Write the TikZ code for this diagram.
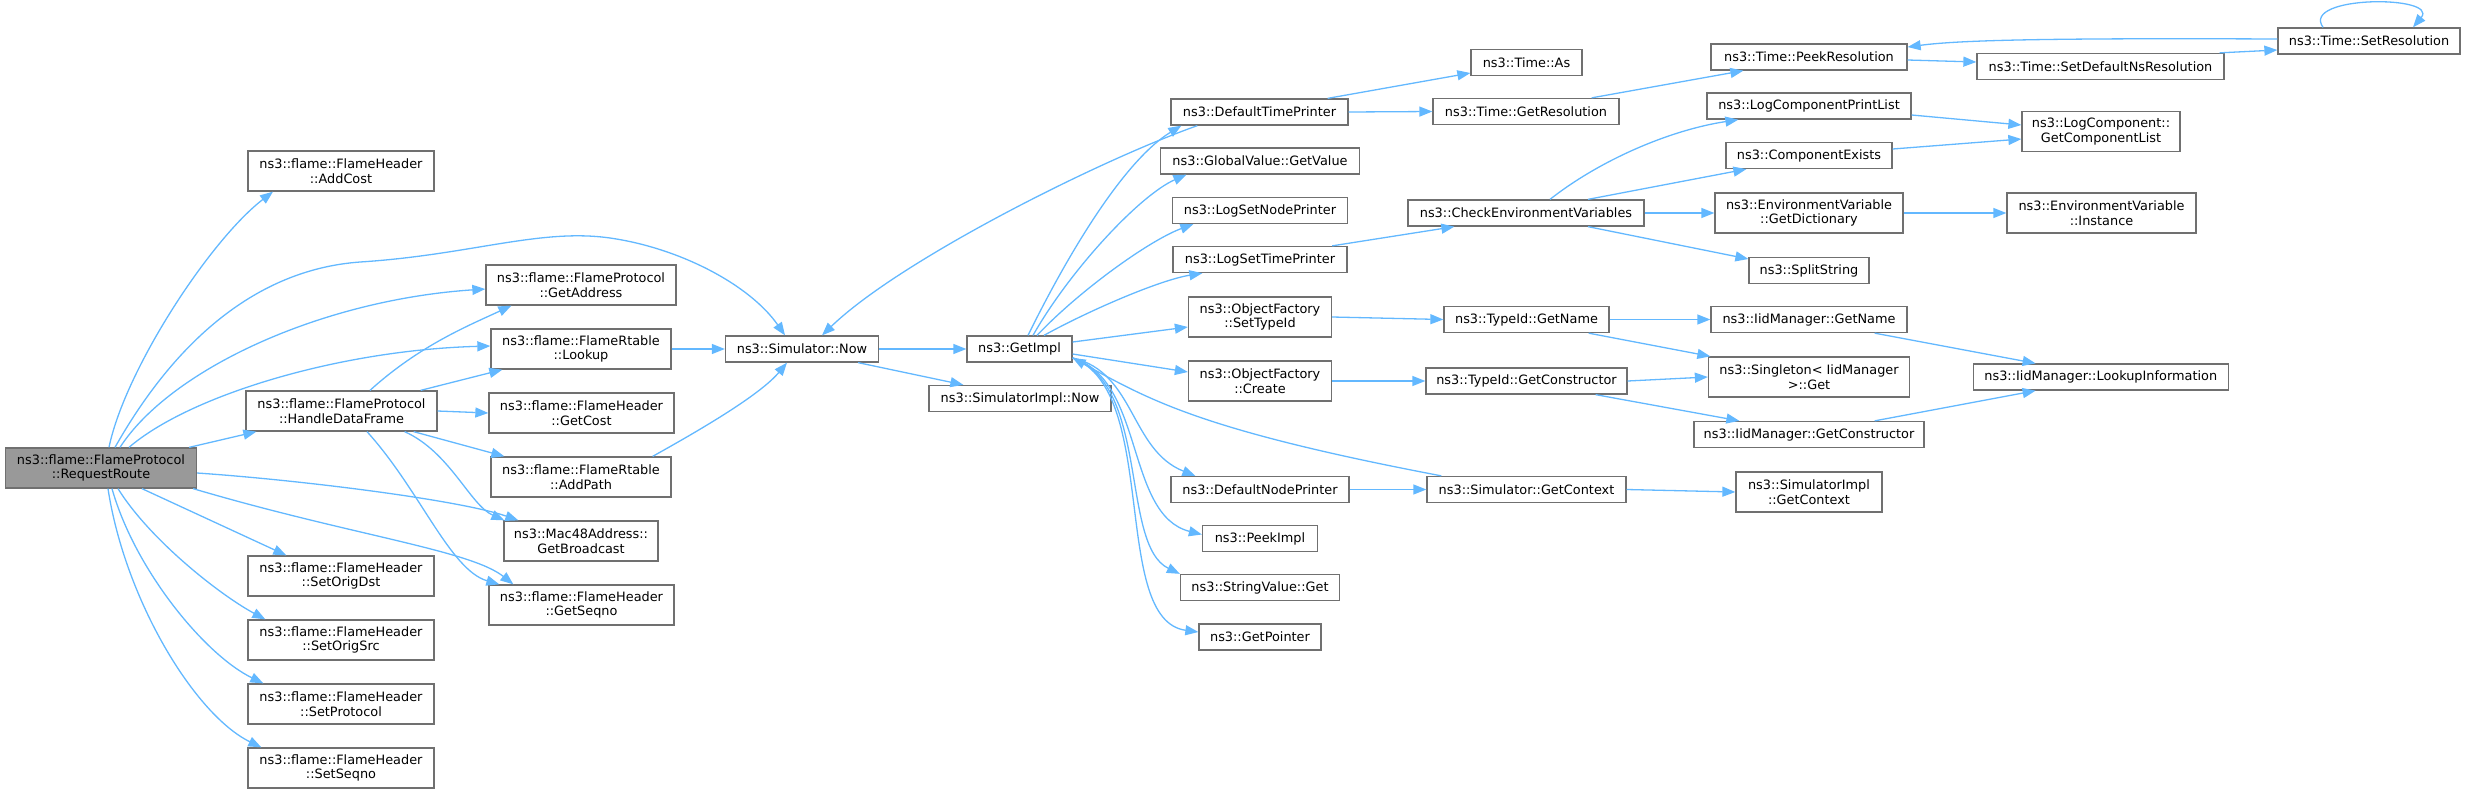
\documentclass[tikz,border=0pt]{standalone}
\usepackage{fontspec}
\setmainfont{DejaVu Sans}
\usetikzlibrary{arrows.meta}
\definecolor{edgec}{HTML}{63B8FF}
\definecolor{bordc}{HTML}{707070}
\definecolor{rootc}{HTML}{999999}
\tikzset{
 box/.style={draw=bordc, line width=1.3pt, fill=white, inner sep=0pt, align=center,
   font=\fontsize{12.87}{14.5}\selectfont, text=black},
 rootbox/.style={box, fill=rootc},
 edge/.style={draw=edgec, line width=1.3pt, -{Triangle[length=13pt,width=10pt]}},
}
\begin{document}
\begin{tikzpicture}[x=1pt,y=-1pt]
\useasboundingbox (0,0) rectangle (2467,793);
% column 1
\node[rootbox, minimum width=191pt, minimum height=40pt] (rr) at (101,468) {ns3::flame::FlameProtocol\\::RequestRoute};
% column 2
\node[box, minimum width=186pt, minimum height=40pt] (addcost) at (341,171) {ns3::flame::FlameHeader\\::AddCost};
\node[box, minimum width=191pt, minimum height=40pt] (hdf) at (341.5,411) {ns3::flame::FlameProtocol\\::HandleDataFrame};
\node[box, minimum width=186pt, minimum height=40pt] (setorigdst) at (341,576) {ns3::flame::FlameHeader\\::SetOrigDst};
\node[box, minimum width=186pt, minimum height=40pt] (setorigsrc) at (341,640) {ns3::flame::FlameHeader\\::SetOrigSrc};
\node[box, minimum width=186pt, minimum height=40pt] (setprotocol) at (341,704) {ns3::flame::FlameHeader\\::SetProtocol};
\node[box, minimum width=186pt, minimum height=40pt] (setseqno) at (341,768) {ns3::flame::FlameHeader\\::SetSeqno};
% column 3
\node[box, minimum width=190pt, minimum height=40pt] (getaddr) at (581,285) {ns3::flame::FlameProtocol\\::GetAddress};
\node[box, minimum width=180pt, minimum height=40pt] (lookup) at (581,349) {ns3::flame::FlameRtable\\::Lookup};
\node[box, minimum width=185pt, minimum height=40pt] (getcost) at (581.5,413) {ns3::flame::FlameHeader\\::GetCost};
\node[box, minimum width=180pt, minimum height=40pt] (addpath) at (581,477) {ns3::flame::FlameRtable\\::AddPath};
\node[box, minimum width=154pt, minimum height=40pt] (mac48) at (581,541) {ns3::Mac48Address::\\GetBroadcast};
\node[box, minimum width=185pt, minimum height=40pt] (getseqno) at (581.5,605) {ns3::flame::FlameHeader\\::GetSeqno};
% column 4
\node[box, minimum width=153pt, minimum height=26pt] (now) at (802,349) {ns3::Simulator::Now};
% column 5
\node[box, minimum width=105pt, minimum height=26pt] (getimpl) at (1019.5,349) {ns3::GetImpl};
\node[box, minimum width=182pt, minimum height=26pt] (simimplnow) at (1020,398.5) {ns3::SimulatorImpl::Now};
% column 6
\node[box, minimum width=177pt, minimum height=26pt] (dtp) at (1259.5,112) {ns3::DefaultTimePrinter};
\node[box, minimum width=199pt, minimum height=26pt] (getvalue) at (1260,161) {ns3::GlobalValue::GetValue};
\node[box, minimum width=175pt, minimum height=26pt] (lsnp) at (1260,210.5) {ns3::LogSetNodePrinter};
\node[box, minimum width=174pt, minimum height=26pt] (lstp) at (1260,259.5) {ns3::LogSetTimePrinter};
\node[box, minimum width=143pt, minimum height=40pt] (settypeid) at (1260,317) {ns3::ObjectFactory\\::SetTypeId};
\node[box, minimum width=143pt, minimum height=40pt] (create) at (1260,381) {ns3::ObjectFactory\\::Create};
\node[box, minimum width=178pt, minimum height=26pt] (dnp) at (1260,489.5) {ns3::DefaultNodePrinter};
\node[box, minimum width=115pt, minimum height=26pt] (peekimpl) at (1260,538.5) {ns3::PeekImpl};
\node[box, minimum width=159pt, minimum height=26pt] (stringvalue) at (1260,587.5) {ns3::StringValue::Get};
\node[box, minimum width=122pt, minimum height=26pt] (getpointer) at (1260,637) {ns3::GetPointer};
% column 7
\node[box, minimum width=111pt, minimum height=26pt] (timeas) at (1526.5,62.5) {ns3::Time::As};
\node[box, minimum width=186pt, minimum height=26pt] (getres) at (1526,111.5) {ns3::Time::GetResolution};
\node[box, minimum width=236pt, minimum height=26pt] (cev) at (1526,213) {ns3::CheckEnvironmentVariables};
\node[box, minimum width=165pt, minimum height=26pt] (tgn) at (1526.5,319.5) {ns3::TypeId::GetName};
\node[box, minimum width=201pt, minimum height=26pt] (tgc) at (1526.5,381) {ns3::TypeId::GetConstructor};
\node[box, minimum width=199pt, minimum height=26pt] (getcontext) at (1526.5,489.5) {ns3::Simulator::GetContext};
% column 8
\node[box, minimum width=196pt, minimum height=26pt] (peekres) at (1809,57) {ns3::Time::PeekResolution};
\node[box, minimum width=204pt, minimum height=26pt] (lcpl) at (1809,106) {ns3::LogComponentPrintList};
\node[box, minimum width=166pt, minimum height=26pt] (compexists) at (1809,155.5) {ns3::ComponentExists};
\node[box, minimum width=188pt, minimum height=40pt] (getdict) at (1809,213) {ns3::EnvironmentVariable\\::GetDictionary};
\node[box, minimum width=120pt, minimum height=26pt] (splitstring) at (1809,270.5) {ns3::SplitString};
\node[box, minimum width=196pt, minimum height=26pt] (ign) at (1809,319.5) {ns3::IidManager::GetName};
\node[box, minimum width=201pt, minimum height=40pt] (singleton) at (1809,377) {ns3::Singleton< IidManager\\ >::Get};
\node[box, minimum width=230pt, minimum height=26pt] (igc) at (1809,434.5) {ns3::IidManager::GetConstructor};
\node[box, minimum width=146pt, minimum height=40pt] (simimplgetctx) at (1809,492) {ns3::SimulatorImpl\\::GetContext};
% column 9
\node[box, minimum width=247pt, minimum height=26pt] (sdnr) at (2100.5,66.5) {ns3::Time::SetDefaultNsResolution};
\node[box, minimum width=158pt, minimum height=40pt] (gcl) at (2101,131.5) {ns3::LogComponent::\\GetComponentList};
\node[box, minimum width=189pt, minimum height=40pt] (instance) at (2101.5,213) {ns3::EnvironmentVariable\\::Instance};
\node[box, minimum width=255pt, minimum height=26pt] (lookupinfo) at (2100.75,377) {ns3::IidManager::LookupInformation};
% column 10
\node[box, minimum width=182pt, minimum height=26pt] (setres) at (2369,41) {ns3::Time::SetResolution};

% ---- edges from RequestRoute
\draw[edge] ([xshift=8pt]rr.north) .. controls (125,370) and (210,240) .. ([xshift=-68pt]addcost.south);
\draw[edge] ([xshift=14pt]rr.north) .. controls (170,350) and (250,270) .. (360,262) .. controls (470,255) and (540,228) .. (610,238) .. controls (680,248) and (750,285) .. ([xshift=-17pt]now.north);
\draw[edge] ([xshift=19pt]rr.north) .. controls (170,370) and (320,300) .. ([yshift=-4pt]getaddr.west);
\draw[edge] ([xshift=28pt]rr.north) .. controls (190,395) and (340,350) .. ([yshift=3pt]lookup.west);
\draw[edge] ([xshift=-8pt]rr.north east) -- ([xshift=11pt]hdf.south west);
\draw[edge] ([yshift=-5pt]rr.east) .. controls (300,480) and (460,500) .. ([xshift=15pt]mac48.north west);
\draw[edge] ([xshift=-4pt]rr.south east) .. controls (350,535) and (470,550) .. ([xshift=25pt]getseqno.north west);
\draw[edge] ([xshift=41pt]rr.south) -- ([xshift=39pt]setorigdst.north west);
\draw[edge] ([xshift=17pt]rr.south) .. controls (150,540) and (220,595) .. ([xshift=18pt]setorigsrc.north west);
\draw[edge] ([xshift=11pt]rr.south) .. controls (135,570) and (205,655) .. ([xshift=16pt]setprotocol.north west);
\draw[edge] ([xshift=7pt]rr.south) .. controls (125,600) and (195,715) .. ([xshift=14pt]setseqno.north west);
% ---- edges from HandleDataFrame
\draw[edge] ([xshift=28.5pt]hdf.north) .. controls (420,345) and (470,325) .. ([xshift=26pt]getaddr.south west);
\draw[edge] ([xshift=-17pt]hdf.north east) -- ([xshift=12pt]lookup.south west);
\draw[edge] (hdf.east) -- (getcost.west);
\draw[edge] ([xshift=-24pt]hdf.south east) -- ([xshift=14pt]addpath.north west);
\draw[edge] ([xshift=-33pt]hdf.south east) .. controls (450,452) and (470,505) .. ([xshift=1pt]mac48.north west);
\draw[edge] ([xshift=25.5pt]hdf.south) .. controls (420,490) and (450,570) .. ([xshift=11pt]getseqno.north west);
% ---- to Simulator::Now
\draw[edge] (lookup.east) -- (now.west);
\draw[edge] ([xshift=-19pt]addpath.north east) .. controls (700,430) and (760,395) .. ([xshift=-15pt]now.south);
\draw[edge] (now.east) -- (getimpl.west);
\draw[edge] ([xshift=-21pt]now.south east) -- ([xshift=35pt]simimplnow.north west);
\draw[edge] ([xshift=27pt]dtp.south west) .. controls (1100,160) and (900,260) .. ([xshift=20pt]now.north);
% ---- from GetImpl
\draw[edge] ([xshift=8.5pt]getimpl.north) .. controls (1070,250) and (1125,160) .. ([xshift=11pt]dtp.south west);
\draw[edge] ([xshift=13.5pt]getimpl.north) .. controls (1070,270) and (1140,195) .. ([xshift=26.5pt]getvalue.south west);
\draw[edge] ([xshift=17.5pt]getimpl.north) .. controls (1080,290) and (1150,240) .. ([xshift=21.5pt]lsnp.south west);
\draw[edge] ([xshift=24.5pt]getimpl.north) .. controls (1090,310) and (1160,280) .. ([xshift=30pt]lstp.south west);
\draw[edge] ([yshift=7pt]getimpl.east) -- ([yshift=-10pt]settypeid.west);
\draw[edge] ([yshift=-5pt]getimpl.east) -- ([yshift=9pt]create.west);
\draw[edge] ([yshift=-9pt]getimpl.east) .. controls (1135,372) and (1130,450) .. ([xshift=25pt]dnp.north west);
\draw[edge] ([yshift=-9pt]getimpl.east) .. controls (1145,380) and (1125,515) .. ([yshift=4pt]peekimpl.west);
\draw[edge] ([yshift=-9pt]getimpl.east) .. controls (1150,385) and (1120,545) .. (stringvalue.north west);
\draw[edge] ([yshift=-9pt]getimpl.east) .. controls (1160,390) and (1110,620) .. ([yshift=5pt]getpointer.west);
\draw[edge] ([xshift=15pt]getcontext.north west) .. controls (1200,430) and (1150,400) .. ([yshift=-9pt]getimpl.east);
% ---- time branch
\draw[edge] ([xshift=-21pt]dtp.north east) -- ([yshift=-10.5pt]timeas.west);
\draw[edge] (dtp.east) -- (getres.west);
\draw[edge] ([xshift=-28pt]getres.north east) -- ([xshift=33pt]peekres.south west);
\draw[edge] ([yshift=-3pt]peekres.east) -- ([yshift=4.5pt]sdnr.west);
\draw[edge] ([xshift=-5pt]sdnr.north east) -- ([yshift=-9pt]setres.west);
\draw[edge] ([yshift=2pt]setres.west) .. controls (2050,38) and (1960,40) .. ([yshift=10pt]peekres.east);
\draw[edge] ([xshift=-46pt]setres.north) .. controls (2300,-5) and (2440,-5) .. ([xshift=44pt]setres.north);
% ---- log branch
\draw[edge] ([xshift=-15.5pt]lstp.north east) -- ([xshift=47pt]cev.south west);
\draw[edge] ([xshift=24pt]cev.north) .. controls (1600,160) and (1670,130) .. ([xshift=32pt]lcpl.south west);
\draw[edge] ([xshift=62pt]cev.north) -- ([xshift=21pt]compexists.south west);
\draw[edge] (cev.east) -- (getdict.west);
\draw[edge] ([xshift=62pt]cev.south) -- ([yshift=11.5pt]splitstring.west);
\draw[edge] ([yshift=-9pt]lcpl.east) -- ([yshift=6.5pt]gcl.west);
\draw[edge] ([yshift=6.5pt]compexists.east) -- ([yshift=-7.5pt]gcl.west);
\draw[edge] (getdict.east) -- (instance.west);
% ---- type branch
\draw[edge] (settypeid.east) -- (tgn.west);
\draw[edge] (create.east) -- (tgc.west);
\draw[edge] (tgn.east) -- (ign.west);
\draw[edge] ([xshift=-21pt]tgn.south east) -- ([xshift=2.5pt]singleton.north west);
\draw[edge] (tgc.east) -- (singleton.west);
\draw[edge] ([xshift=-32pt]tgc.south east) -- ([xshift=46pt]igc.north west);
\draw[edge] ([xshift=-33pt]ign.south east) -- ([xshift=63pt]lookupinfo.north west);
\draw[edge] ([xshift=-50pt]igc.north east) -- ([xshift=63pt]lookupinfo.south west);
% ---- context branch
\draw[edge] (dnp.east) -- (getcontext.west);
\draw[edge] (getcontext.east) -- (simimplgetctx.west);
\end{tikzpicture}
\end{document}
